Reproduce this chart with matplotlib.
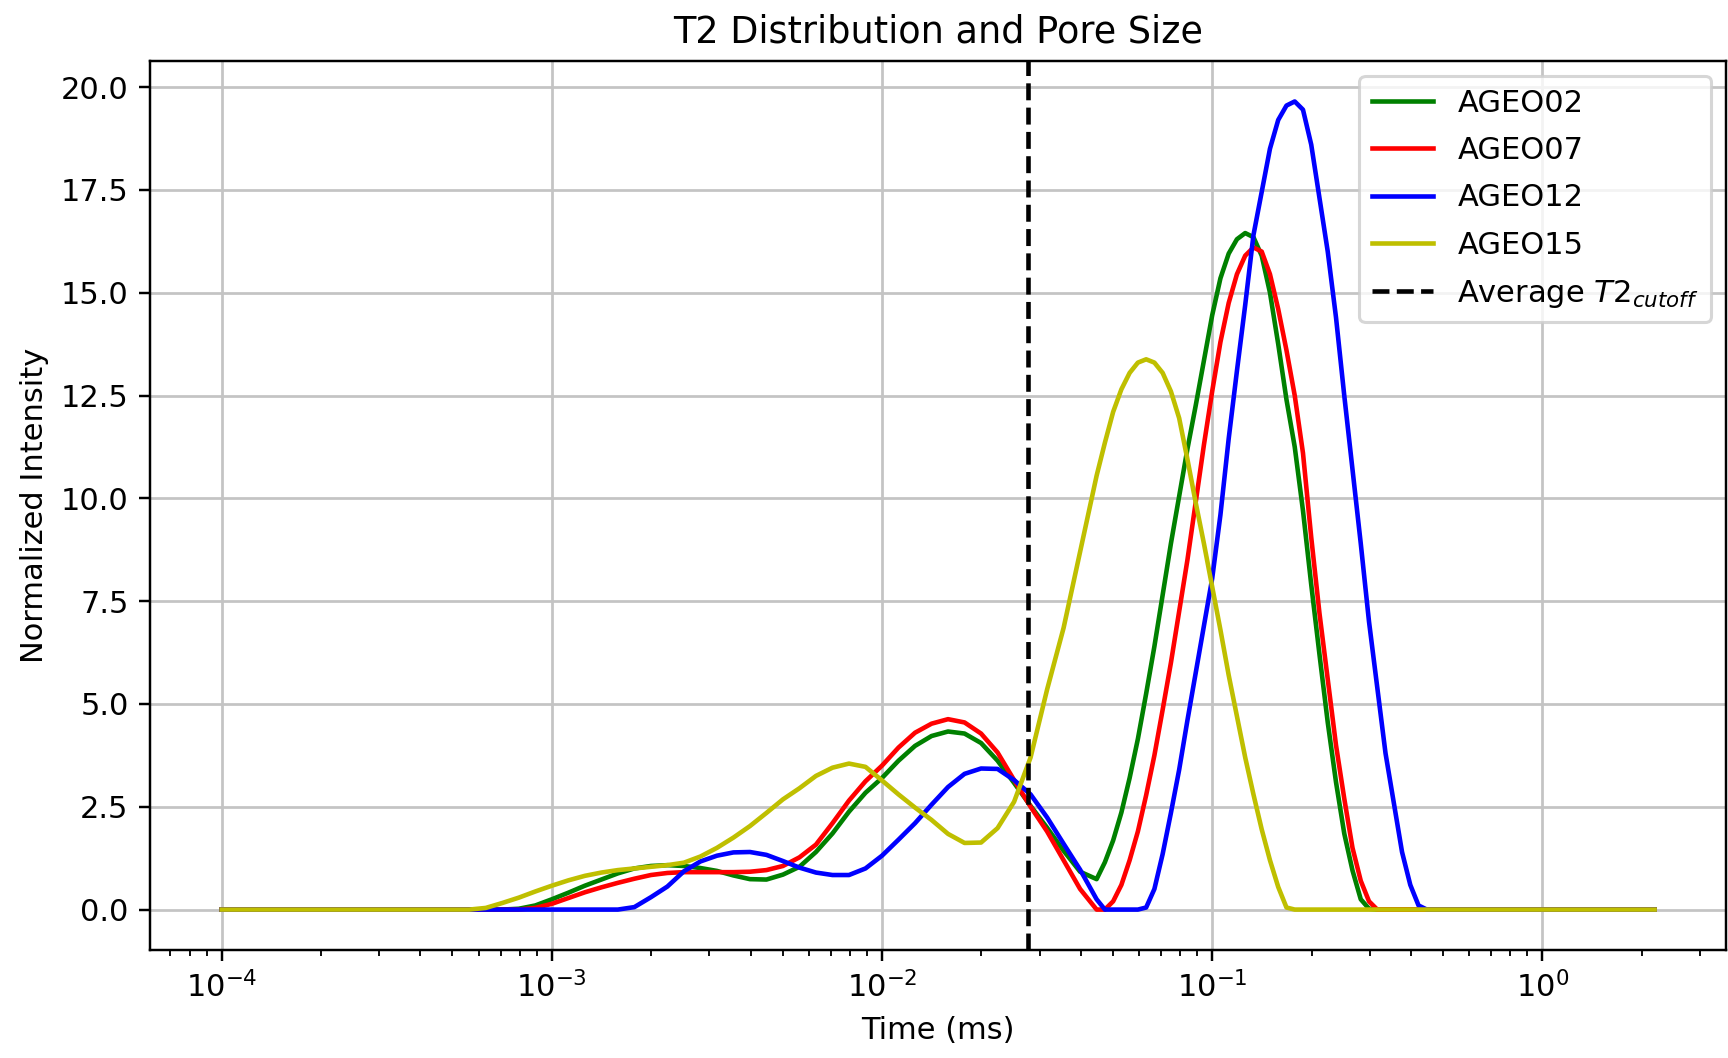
import matplotlib
matplotlib.use("Agg")
import matplotlib.pyplot as plt
import numpy as np

# relaxation times, as log10 of ms (finer steps over the main peaks)
log_t = [-4.0,
         -3.25, -3.20, -3.15, -3.10, -3.05, -3.00, -2.95, -2.90, -2.85, -2.80,
         -2.75, -2.70, -2.65, -2.60, -2.55, -2.50, -2.45, -2.40, -2.35, -2.30,
         -2.25, -2.20, -2.15, -2.10, -2.05, -2.00, -1.95, -1.90, -1.85, -1.80,
         -1.75, -1.70, -1.65, -1.60, -1.55, -1.50, -1.45, -1.40,
         -1.35, -1.325, -1.30, -1.275, -1.25, -1.225, -1.20, -1.175, -1.15, -1.125,
         -1.10, -1.075, -1.05, -1.025, -1.00, -0.975, -0.95, -0.925, -0.90, -0.875,
         -0.85, -0.825, -0.80, -0.775, -0.75, -0.725, -0.70, -0.675, -0.65, -0.625,
         -0.60, -0.575, -0.55, -0.525, -0.50, -0.475, -0.45, -0.425, -0.40, -0.375,
         -0.35,
         0.34]

ageo02 = [0,
          0, 0, 0, 0.02, 0.1, 0.25, 0.41, 0.58, 0.73, 0.88,
          1.0, 1.06, 1.08, 1.06, 1.01, 0.94, 0.83, 0.74, 0.73, 0.85,
          1.04, 1.4, 1.85, 2.38, 2.84, 3.2, 3.62, 3.98, 4.22, 4.33,
          4.28, 4.05, 3.62, 3.08, 2.52, 1.99, 1.43, 0.92,
          0.74, 1.15, 1.68, 2.36, 3.2, 4.15, 5.25, 6.4, 7.65, 8.9,
          10.05, 11.2, 12.25, 13.35, 14.45, 15.35, 15.95, 16.3, 16.45, 16.35,
          15.9, 15.0, 13.75, 12.4, 11.25, 9.7, 7.9, 6.2, 4.55, 3.1,
          1.85, 0.95, 0.25, 0.02, 0, 0, 0, 0, 0, 0,
          0,
          0]

ageo07 = [0,
          0, 0, 0, 0, 0.04, 0.14, 0.28, 0.42, 0.54, 0.65,
          0.75, 0.84, 0.89, 0.91, 0.91, 0.91, 0.91, 0.92, 0.96, 1.06,
          1.27, 1.58, 2.1, 2.65, 3.12, 3.5, 3.94, 4.3, 4.52, 4.63,
          4.55, 4.28, 3.82, 3.15, 2.5, 1.9, 1.2, 0.5,
          0, 0, 0.2, 0.6, 1.2, 1.9, 2.78, 3.75, 4.86, 6.0,
          7.25, 8.5, 9.9, 11.3, 12.6, 13.8, 14.75, 15.45, 15.9, 16.1,
          16.0, 15.45, 14.6, 13.6, 12.5, 11.1, 9.05, 7.2, 5.6, 4.0,
          2.7, 1.5, 0.7, 0.2, 0, 0, 0, 0, 0, 0,
          0,
          0]

ageo12 = [0,
          0, 0, 0, 0, 0, 0, 0, 0, 0, 0,
          0.06, 0.3, 0.56, 0.93, 1.17, 1.31, 1.39, 1.4, 1.33, 1.18,
          1.02, 0.9, 0.84, 0.84, 1.0, 1.31, 1.7, 2.1, 2.55, 2.98,
          3.3, 3.43, 3.42, 3.15, 2.8, 2.24, 1.6, 0.97,
          0.25, 0, 0, 0, 0, 0, 0.05, 0.5, 1.35, 2.35,
          3.4, 4.6, 5.75, 6.9, 8.05, 9.6, 11.45, 13.1, 14.7, 16.4,
          17.45, 18.5, 19.2, 19.55, 19.65, 19.45, 18.6, 17.3, 16.0, 14.4,
          12.5, 10.7, 8.9, 7.0, 5.4, 3.8, 2.6, 1.4, 0.6, 0.1,
          0,
          0]

ageo15 = [0,
          0, 0.04, 0.16, 0.29, 0.44, 0.58, 0.71, 0.82, 0.9, 0.96,
          1.0, 1.04, 1.08, 1.14, 1.29, 1.5, 1.75, 2.03, 2.35, 2.68,
          2.95, 3.25, 3.45, 3.55, 3.47, 3.14, 2.8, 2.48, 2.18, 1.84,
          1.62, 1.63, 1.98, 2.62, 3.7, 5.35, 6.85, 8.7,
          10.55, 11.35, 12.1, 12.65, 13.05, 13.3, 13.38, 13.3, 13.05, 12.6,
          11.95, 10.95, 9.9, 8.9, 7.85, 6.8, 5.7, 4.7, 3.7, 2.8,
          1.95, 1.2, 0.55, 0.05, 0, 0, 0, 0, 0, 0,
          0, 0, 0, 0, 0, 0, 0, 0, 0, 0,
          0,
          0]

samples = ['AGEO02', 'AGEO07', 'AGEO12', 'AGEO15']
colors = ['g', 'r', 'b', 'y']
t2_cutoff = 0.0277  # ms

t_ms = 10.0 ** np.array(log_t)

plt.figure(figsize=(1728 / 220, 1058 / 220), dpi=220)
plt.subplots_adjust(left=0.0868, right=0.999, bottom=0.1021, top=0.9423)

for name, values, c in zip(samples, [ageo02, ageo07, ageo12, ageo15], colors):
    plt.plot(t_ms, values, c, label=name)

plt.axvline(t2_cutoff, color='k', linestyle='--', label='Average $T2_{cutoff}$')

plt.xscale('log')
plt.title('T2 Distribution and Pore Size')
plt.xlabel('Time (ms)')
plt.ylabel('Normalized Intensity')
plt.grid(True, color='#c4c4c4', linewidth=0.9)
plt.legend(loc='upper right', labelspacing=0.6)

plt.savefig('out.png', dpi=220)
